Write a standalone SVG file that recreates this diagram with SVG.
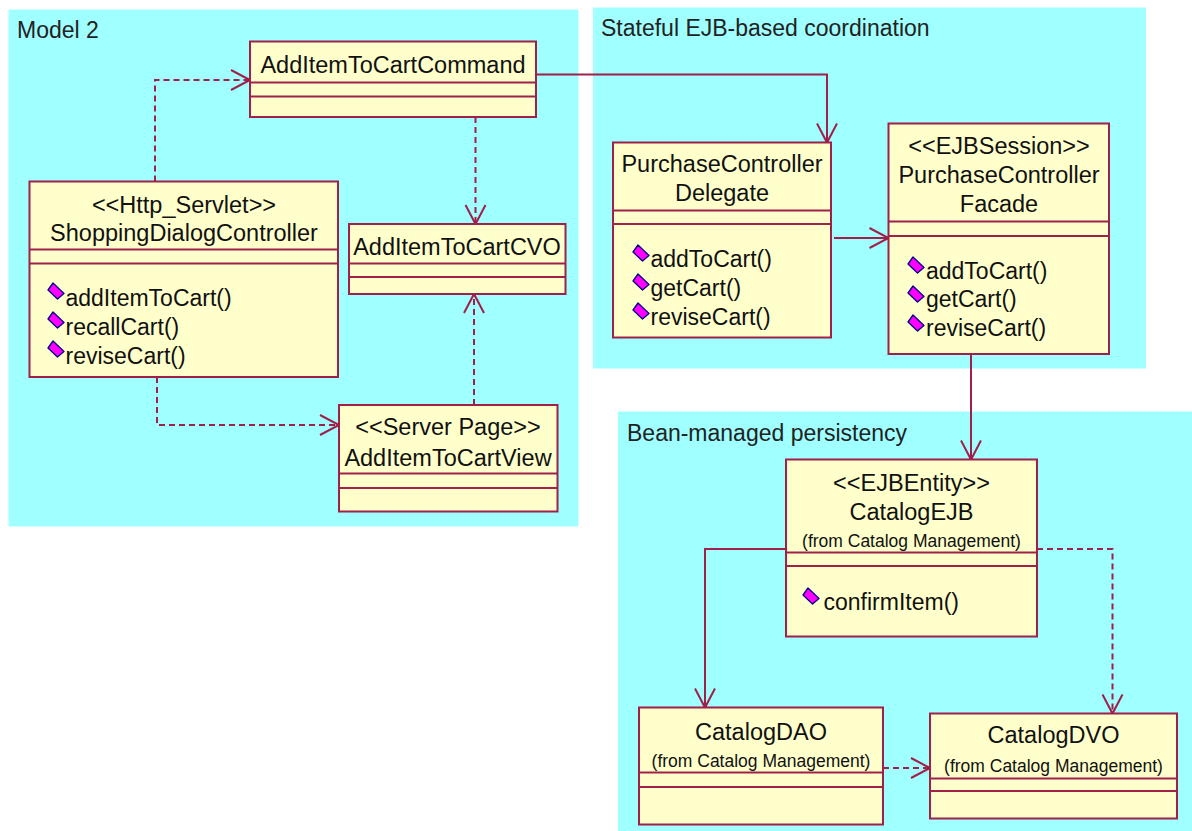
<svg xmlns="http://www.w3.org/2000/svg" width="1192" height="831" viewBox="0 0 1192 831">
  <style>
    .pkg { fill: #A0FFFF; stroke: none; }
    .box { fill: #FFFFCC; stroke: #A0204A; stroke-width: 2; }
    .sep { stroke: #A0204A; stroke-width: 2; fill: none; }
    .t { font-family: "Liberation Sans", Arial, sans-serif; font-size: 23.5px; fill: #111; }
    .c { text-anchor: middle; }
    .s { font-family: "Liberation Sans", Arial, sans-serif; font-size: 17.5px; fill: #111; text-anchor: middle; }
    .m { font-family: "Liberation Sans", Arial, sans-serif; font-size: 23px; fill: #111; }
    .lbl { font-family: "Liberation Sans", Arial, sans-serif; font-size: 23px; fill: #222; }
    .dep { fill: none; stroke: #A0204A; stroke-width: 2; stroke-dasharray: 6 4; marker-end: url(#open); }
    .assoc { fill: none; stroke: #A0204A; stroke-width: 2; marker-end: url(#open); }
    .op { fill: #FF00FF; stroke: #000080; stroke-width: 1.3; stroke-linejoin: round; }
  </style>
  <defs>
    <marker id="open" markerUnits="userSpaceOnUse" markerWidth="24" markerHeight="24" refX="20" refY="10" orient="auto" viewBox="0 0 24 20" overflow="visible">
      <path d="M 1,0 L 20,10 L 1,20" fill="none" stroke="#A0204A" stroke-width="2" stroke-dasharray="none"/>
      <circle cx="19" cy="10" r="1.6" fill="#A0204A"/>
    </marker>
    <!-- operation marker: tilted magenta rhombus -->
    <polygon id="diamond" points="5,0 16,10.5 9.5,16 0,7"/>
  </defs>

  <!-- packages -->
  <g id="pkg-model2">
    <rect class="pkg" x="8.5" y="9.5" width="570" height="517"/>
    <text class="lbl" x="17" y="38">Model 2</text>
  </g>
  <g id="pkg-stateful">
    <rect class="pkg" x="593" y="7.5" width="553" height="361"/>
    <text class="lbl" x="601" y="36">Stateful EJB-based coordination</text>
  </g>
  <g id="pkg-bean">
    <rect class="pkg" x="618" y="411.5" width="574" height="420"/>
    <text class="lbl" x="627" y="441">Bean-managed persistency</text>
  </g>

  <!-- connectors -->
  <g id="connectors">
    <polyline class="dep" points="155,181.5 155,80 250,80"/>
    <polyline class="dep" points="475.5,117 475.5,224"/>
    <polyline class="dep" points="157,377 157,425 339,425"/>
    <polyline class="dep" points="474,405 474,294"/>
    <polyline class="assoc" points="536,74.5 827,74.5 827,142.5"/>
    <polyline class="assoc" points="834,238 888.5,238"/>
    <polyline class="assoc" points="971,354 971,459.5"/>
    <polyline class="assoc" points="786,549 705,549 705,707.5"/>
    <polyline class="dep" points="1037,549 1112.5,549 1112.5,713.5"/>
    <polyline class="dep" points="883,768 930,768"/>
  </g>

  <!-- classes -->
  <g id="AddItemToCartCommand">
    <rect class="box" x="250" y="41.5" width="286" height="75.5"/>
    <line class="sep" x1="250" y1="82.5" x2="536" y2="82.5"/>
    <line class="sep" x1="250" y1="96.5" x2="536" y2="96.5"/>
    <text class="t c" x="393" y="73">AddItemToCartCommand</text>
  </g>

  <g id="ShoppingDialogController">
    <rect class="box" x="29.5" y="181.5" width="308.5" height="195.5"/>
    <line class="sep" x1="29.5" y1="249.5" x2="338" y2="249.5"/>
    <line class="sep" x1="29.5" y1="263.5" x2="338" y2="263.5"/>
    <text class="t c" x="184" y="212.5">&lt;&lt;Http_Servlet&gt;&gt;</text>
    <text class="t c" x="184" y="240.5">ShoppingDialogController</text>
    <use href="#diamond" class="op" x="48" y="283"/>
    <use href="#diamond" class="op" x="48" y="312"/>
    <use href="#diamond" class="op" x="48" y="341"/>
    <text class="m" x="65.5" y="305.5">addItemToCart()</text>
    <text class="m" x="65.5" y="334.5">recallCart()</text>
    <text class="m" x="65.5" y="363.5">reviseCart()</text>
  </g>

  <g id="AddItemToCartCVO">
    <rect class="box" x="349" y="224" width="216.5" height="70"/>
    <line class="sep" x1="349" y1="263.5" x2="565.5" y2="263.5"/>
    <line class="sep" x1="349" y1="277" x2="565.5" y2="277"/>
    <text class="t c" x="457" y="255">AddItemToCartCVO</text>
  </g>

  <g id="AddItemToCartView">
    <rect class="box" x="339" y="405" width="218.5" height="106.5"/>
    <line class="sep" x1="339" y1="473.5" x2="557.5" y2="473.5"/>
    <line class="sep" x1="339" y1="488" x2="557.5" y2="488"/>
    <text class="t c" x="448" y="435">&lt;&lt;Server Page&gt;&gt;</text>
    <text class="t c" x="448" y="465.5">AddItemToCartView</text>
  </g>

  <g id="PurchaseControllerDelegate">
    <rect class="box" x="613" y="142.5" width="218" height="195"/>
    <line class="sep" x1="613" y1="210.5" x2="831" y2="210.5"/>
    <line class="sep" x1="613" y1="224" x2="831" y2="224"/>
    <text class="t c" x="722" y="171.5">PurchaseController</text>
    <text class="t c" x="722" y="200.5">Delegate</text>
    <use href="#diamond" class="op" x="633" y="245"/>
    <use href="#diamond" class="op" x="633" y="274"/>
    <use href="#diamond" class="op" x="633" y="303"/>
    <text class="m" x="650.5" y="266.5">addToCart()</text>
    <text class="m" x="650.5" y="295.5">getCart()</text>
    <text class="m" x="650.5" y="324.5">reviseCart()</text>
  </g>

  <g id="PurchaseControllerFacade">
    <rect class="box" x="888.5" y="123.5" width="220.5" height="230.5"/>
    <line class="sep" x1="888.5" y1="221.5" x2="1109" y2="221.5"/>
    <line class="sep" x1="888.5" y1="236" x2="1109" y2="236"/>
    <text class="t c" x="999" y="154">&lt;&lt;EJBSession&gt;&gt;</text>
    <text class="t c" x="999" y="183">PurchaseController</text>
    <text class="t c" x="999" y="212">Facade</text>
    <use href="#diamond" class="op" x="908" y="257"/>
    <use href="#diamond" class="op" x="908" y="286"/>
    <use href="#diamond" class="op" x="908" y="315"/>
    <text class="m" x="926" y="278.5">addToCart()</text>
    <text class="m" x="926" y="307">getCart()</text>
    <text class="m" x="926" y="336">reviseCart()</text>
  </g>

  <g id="CatalogEJB">
    <rect class="box" x="786" y="459.5" width="251" height="177"/>
    <line class="sep" x1="786" y1="552.5" x2="1037" y2="552.5"/>
    <line class="sep" x1="786" y1="566" x2="1037" y2="566"/>
    <text class="t c" x="911.5" y="490.5">&lt;&lt;EJBEntity&gt;&gt;</text>
    <text class="t c" x="911.5" y="520">CatalogEJB</text>
    <text class="s" x="911.5" y="546.5">(from Catalog Management)</text>
    <use href="#diamond" class="op" x="803" y="588"/>
    <text class="m" x="823.5" y="609.5">confirmItem()</text>
  </g>

  <g id="CatalogDAO">
    <rect class="box" x="639" y="707.5" width="244" height="117"/>
    <line class="sep" x1="639" y1="772.5" x2="883" y2="772.5"/>
    <line class="sep" x1="639" y1="787" x2="883" y2="787"/>
    <text class="t c" x="761" y="740">CatalogDAO</text>
    <text class="s" x="761" y="766.5">(from Catalog Management)</text>
  </g>

  <g id="CatalogDVO">
    <rect class="box" x="930" y="713.5" width="247" height="105"/>
    <line class="sep" x1="930" y1="778.5" x2="1177" y2="778.5"/>
    <line class="sep" x1="930" y1="791" x2="1177" y2="791"/>
    <text class="t c" x="1053.5" y="743">CatalogDVO</text>
    <text class="s" x="1053.5" y="771.5">(from Catalog Management)</text>
  </g>
</svg>
